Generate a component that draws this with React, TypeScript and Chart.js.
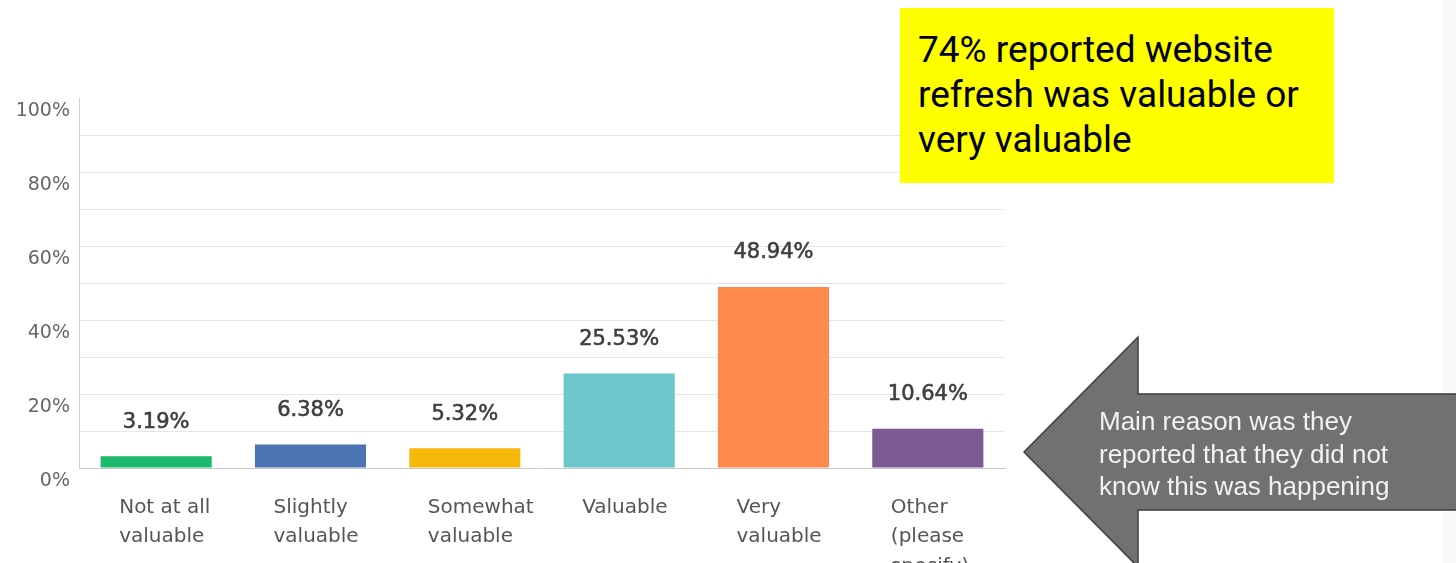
import React, { useEffect, useRef } from "react";
import { Chart, registerables } from "chart.js";

Chart.register(...registerables);

const categories: string[][] = [
  ["Not at all", "valuable"],
  ["Slightly", "valuable"],
  ["Somewhat", "valuable"],
  ["Valuable"],
  ["Very", "valuable"],
  ["Other", "(please", "specify)"],
];
const values: number[] = [3.19, 6.38, 5.32, 25.53, 48.94, 10.64];
const valueLabels: string[] = ["3.19%", "6.38%", "5.32%", "25.53%", "48.94%", "10.64%"];
const barColors: string[] = ["#1bb96b", "#4c74b2", "#f6b90a", "#6cc7cb", "#fd8a4c", "#7c5b94"];
const yTickLabels: Record<number, string> = { 0: "0%", 20: "20%", 40: "40%", 60: "60%", 80: "80%", 100: "100%" };

const calloutLines: string[] = ["74% reported website", "refresh was valuable or", "very valuable"];
const arrowLines: string[] = ["Main reason was they", "reported that they did not", "know this was happening"];

const FONT = "'DejaVu Sans', sans-serif";

const valueLabelPlugin = {
  id: "valueLabels",
  afterDatasetsDraw(chart: any) {
    const meta = chart.getDatasetMeta(0);
    const ctx = chart.ctx;
    ctx.save();
    ctx.font = `21px ${FONT}`;
    ctx.fillStyle = "#3f3f3f";
    ctx.strokeStyle = "#3f3f3f";
    ctx.lineWidth = 0.6;
    ctx.textAlign = "center";
    ctx.textBaseline = "middle";
    meta.data.forEach((bar: any, i: number) => {
      ctx.fillText(valueLabels[i], bar.x, bar.y - 34);
      ctx.strokeText(valueLabels[i], bar.x, bar.y - 34);
    });
    ctx.restore();
  },
};

function BarChart() {
  const ref = useRef<HTMLCanvasElement | null>(null);
  useEffect(() => {
    if (!ref.current) return;
    const chart = new Chart(ref.current, {
      type: "bar",
      data: {
        labels: categories,
        datasets: [
          {
            data: values,
            backgroundColor: barColors,
            borderWidth: 0,
            categoryPercentage: 1,
            barPercentage: 0.72,
          },
        ],
      },
      plugins: [valueLabelPlugin],
      options: {
        responsive: false,
        animation: false,
        devicePixelRatio: 1,
        layout: { padding: { top: 98, right: 451, left: 0, bottom: 0 } },
        plugins: { legend: { display: false }, tooltip: { enabled: false }, title: { display: false } },
        scales: {
          x: {
            grid: { display: false, drawTicks: false },
            border: { display: true, color: "#c9c9c9", width: 1 },
            ticks: {
              autoSkip: false,
              maxRotation: 0,
              minRotation: 0,
              align: "start",
              labelOffset: -37,
              padding: 25,
              color: "#555555",
              font: { family: FONT, size: 20, lineHeight: 1.47 },
            },
            afterFit: (scale: any) => {
              scale.height = 95;
            },
          },
          y: {
            min: 0,
            max: 100,
            grid: {
              drawTicks: false,
              color: (c: any) => (c.tick && (c.tick.value === 100 || c.tick.value === 0) ? "rgba(0,0,0,0)" : "#e6e6e6"),
              lineWidth: 1,
            },
            border: { display: true, color: "#cfcfcf", width: 1 },
            ticks: {
              stepSize: 10,
              padding: 9,
              labelOffset: 13,
              color: "#666666",
              font: { family: FONT, size: 19 },
              callback: (v: any) => (yTickLabels[Number(v)] !== undefined ? yTickLabels[Number(v)] : ""),
            },
            afterFit: (scale: any) => {
              scale.width = 79;
            },
          },
        },
      },
    } as any);
    return () => chart.destroy();
  }, []);
  return <canvas ref={ref} width={1456} height={563} style={{ display: "block", width: 1456, height: 563 }} />;
}

export default function App() {
  return (
    <div style={{ position: "fixed", left: 0, top: 0, width: 1456, height: 563, overflow: "hidden", background: "#ffffff" }}>
      <div style={{ position: "absolute", left: 1443, top: 0, width: 13, height: 563, background: "#f8f8f8" }} />
      <div style={{ position: "absolute", left: 0, top: 0 }}>
        <BarChart />
      </div>
      <div
        style={{
          position: "absolute",
          left: 900,
          top: 8,
          width: 434,
          height: 175,
          background: "#ffff00",
          boxSizing: "border-box",
          padding: "19px 0 0 18px",
          fontFamily: "Roboto, sans-serif",
          fontSize: 37,
          lineHeight: "45px",
          color: "#000000",
        }}
      >
        {calloutLines.map((l, i) => (
          <div key={i} style={{ whiteSpace: "nowrap" }}>{l}</div>
        ))}
      </div>
      <svg width={1456} height={563} style={{ position: "absolute", left: 0, top: 0 }}>
        <polygon
          points="1024,452 1138,337 1138,394 1462,394 1462,510 1138,510 1138,567"
          fill="#717171"
          stroke="#3d3d3d"
          strokeWidth={1.5}
        />
      </svg>
      <div
        style={{
          position: "absolute",
          left: 1099,
          top: 405,
          fontFamily: "'Liberation Sans', Arial, sans-serif",
          fontSize: 26,
          lineHeight: "32.5px",
          color: "#f2f2f2",
          whiteSpace: "nowrap",
        }}
      >
        {arrowLines.map((l, i) => (
          <div key={i}>{l}</div>
        ))}
      </div>
    </div>
  );
}
